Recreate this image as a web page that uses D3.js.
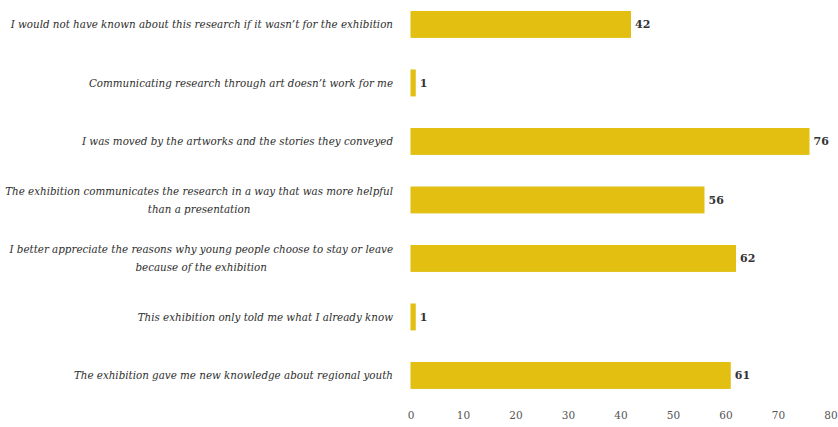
<!DOCTYPE html>
<html>
<head>
<meta charset="utf-8">
<script src="https://cdn.jsdelivr.net/npm/d3@7"></script>
<style>
  html, body { margin: 0; padding: 0; background: #fff; }
  svg { display: block; }
  .serif { font-family: "DejaVu Serif", "Liberation Serif", serif; }
</style>
</head>
<body>
<svg id="chart" width="838" height="427"></svg>
<script>
const categories = [
  ["I would not have known about this research if it wasn\u2019t for the exhibition"],
  ["Communicating research through art doesn\u2019t work for me"],
  ["I was moved by the artworks and the stories they conveyed"],
  ["The exhibition communicates the research in a way that was more helpful", "than a presentation"],
  ["I better appreciate the reasons why young people choose to stay or leave", "because of the exhibition"],
  ["This exhibition only told me what I already know"],
  ["The exhibition gave me new knowledge about regional youth"]
];
const values = [42, 1, 76, 56, 62, 1, 61];
const xTicks = [0, 10, 20, 30, 40, 50, 60, 70, 80];

const svg = d3.select("#chart");
const keys = categories.map((c, i) => "c" + i);

const x = d3.scaleLinear().domain([0, 80]).range([410.5, 830.5]);
const y = d3.scaleBand().domain(keys).range([-20.6, 420.5]).padding(0.54);

// measure to fit label font size
const probe = svg.append("text").attr("class", "serif").style("font-style", "italic")
  .style("font-size", "12px").text(categories[0][0]);
const w = probe.node().getComputedTextLength();
probe.remove();
const labelSize = 12 * 383 / w;

// bars
svg.append("g").selectAll("rect").data(values).join("rect")
  .attr("x", x(0))
  .attr("y", (d, i) => y(keys[i]))
  .attr("width", d => x(d) - x(0))
  .attr("height", y.bandwidth())
  .attr("fill", "#e2bf10");

// value labels
svg.append("g").selectAll("text").data(values).join("text")
  .attr("class", "serif")
  .attr("x", d => x(d) + 4)
  .attr("y", (d, i) => y(keys[i]) + y.bandwidth() / 2)
  .attr("dy", "0.35em")
  .style("font-weight", "bold")
  .style("font-size", "11px")
  .attr("fill", "#333")
  .text(d => d);

// category labels
const lineH = 18;
const lab = svg.append("g");
categories.forEach((lines, i) => {
  const cy = y(keys[i]) + y.bandwidth() / 2;
  const t = lab.append("text")
    .attr("class", "serif").style("font-style", "italic")
    .style("font-size", labelSize + "px").attr("fill", "#2e2e2e");
  const n = lines.length;
  const spans = lines.map((s, j) => t.append("tspan")
    .attr("y", cy + (j - (n - 1) / 2) * lineH)
    .attr("dy", "0.35em")
    .text(s));
  const widths = spans.map(sp => sp.node().getComputedTextLength());
  const maxW = Math.max(...widths);
  const right = 393;
  spans.forEach(sp => {
    sp.attr("x", right - maxW / 2).attr("text-anchor", "middle");
  });
});

// x axis (tick labels only)
const axis = svg.append("g").attr("transform", "translate(0,406)")
  .call(d3.axisBottom(x).tickValues(xTicks).tickSize(0).tickPadding(6));
axis.select(".domain").remove();
axis.selectAll("text").attr("class", "serif").attr("font-family", null)
  .style("font-size", "10.5px").attr("fill", "#555");
</script>
</body>
</html>
